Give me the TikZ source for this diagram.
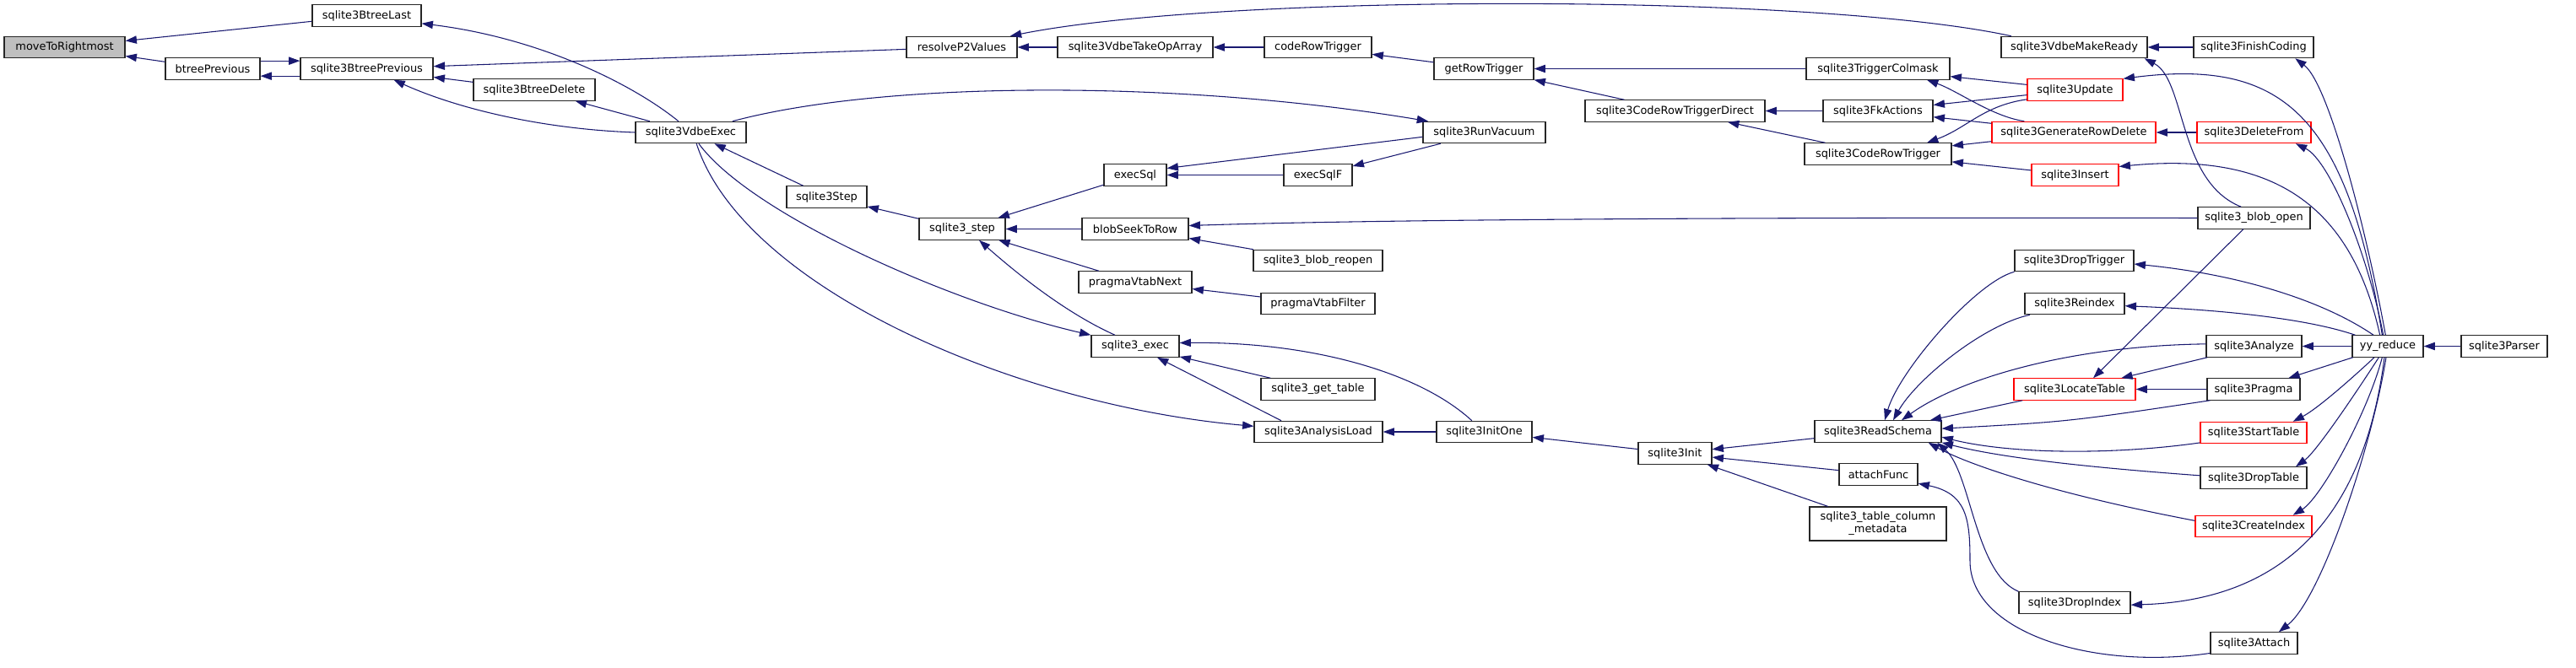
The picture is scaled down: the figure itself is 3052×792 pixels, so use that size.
\documentclass[tikz,border=0pt]{standalone}
\usepackage{fontspec}
\setmainfont{DejaVu Sans}
\usetikzlibrary{arrows.meta}
\definecolor{edgeblue}{HTML}{191970}
\definecolor{rootgray}{HTML}{BFBFBF}
\definecolor{linkred}{HTML}{FF0000}

\begin{document}
\begin{tikzpicture}[x=0.75pt,y=-0.75pt,
  fn/.style={draw=black!85,line width=0.9pt,fill=white,inner sep=0pt,
    minimum height=19pt,font=\fontsize{9.7}{11.3}\selectfont},
  redfn/.style={fn,draw=linkred},
  rootfn/.style={fn,fill=rootgray},
  call/.style={draw=edgeblue,line width=0.8pt,{Triangle[length=10pt,width=7pt]}-}]
  \useasboundingbox (0,0) rectangle (3052,792);

  % Functions
  \node[rootfn,minimum width=143*0.75pt] (mvr) at (76.5,56) {moveToRightmost};
  \foreach \id/\x/\y/\w/\txt in {
    btl/434.5/18.5/129/sqlite3BtreeLast, btp/252/81.5/112/btreePrevious,
    sbp/434.5/81.5/157/sqlite3BtreePrevious, bdel/633/106.5/144/sqlite3BtreeDelete,
    vexec/818.5/157/131/sqlite3VdbeExec, sstep/979.5/233.5/95/sqlite3Step,
    rp2/1139.5/56/131/resolveP2Values, takeop/1345/56/184/sqlite3VdbeTakeOpArray,
    crt/1561.5/56/127/codeRowTrigger, esql/1345/207.5/74/execSql,
    s3step/1140/271.5/102/sqlite3\_step, bseek/1345/271.5/126/blobSeekToRow,
    breopen/1561.5/309/153/sqlite3\_blob\_reopen, pvnext/1345/334.5/134/pragmaVtabNext,
    pvfilter/1561.5/360/135/pragmaVtabFilter, exec/1345/410.5/104/sqlite3\_exec,
    gettab/1561.5/461.5/135/sqlite3\_get\_table, aload/1562/512/152/sqlite3AnalysisLoad,
    grt/1758/81.5/118/getRowTrigger, vacuum/1758.5/157/145/sqlite3RunVacuum,
    esqlf/1561.5/207.5/81/execSqlF, initone/1758.5/512/113/sqlite3InitOne,
    crtd/1984.5/131.5/213/sqlite3CodeRowTriggerDirect, init/1984.5/537.5/87/sqlite3Init,
    colmask/2225/81.5/170/sqlite3TriggerColmask, fkact/2225/131.5/130/sqlite3FkActions,
    codert/2225/182.5/174/sqlite3CodeRowTrigger, rschema/2225/511.5/150/sqlite3ReadSchema,
    attf/2225.5/562.5/93/attachFunc, mready/2457.5/56/173/sqlite3VdbeMakeReady,
    dtrig/2457.5/309/141/sqlite3DropTrigger, reindex/2458/360/118/sqlite3Reindex,
    dindex/2458/714.5/132/sqlite3DropIndex, finish/2670/56/142/sqlite3FinishCoding,
    bopen/2670.5/258.5/133/sqlite3\_blob\_open, analyze/2670.5/410.5/113/sqlite3Analyze,
    pragma/2670/461.5/110/sqlite3Pragma, dtable/2670/566.5/126/sqlite3DropTable,
    attach/2670.5/762.5/103/sqlite3Attach, yyr/2829/410.5/84/yy\_reduce,
    parser/2967/410.5/102/sqlite3Parser
  }{
    \node[fn,minimum width=\w*0.75pt] (\id) at (\x,\y) {\txt};
  }
  \foreach \id/\x/\y/\w/\txt in {
    update/2458.5/106.5/113/sqlite3Update, grd/2457/157/194/sqlite3GenerateRowDelete,
    insert/2458.5/207.5/103/sqlite3Insert, locate/2458/461.5/144/sqlite3LocateTable,
    dfrom/2670.5/157/135/sqlite3DeleteFrom, stable/2670/513/126/sqlite3StartTable,
    cindex/2670/624/138/sqlite3CreateIndex
  }{
    \node[redfn,minimum width=\w*0.75pt] (\id) at (\x,\y) {\txt};
  }
  \node[fn,minimum width=162*0.75pt,minimum height=30pt,align=center] (tcm) at (2225,621)
    {sqlite3\_table\_column\\\_metadata};

  % Straight calls (arrow at the callee)
  \foreach \a/\b in {mvr/btl, mvr/btp, sbp/rp2, sbp/bdel, bdel/vexec, vexec/sstep,
    sstep/s3step, s3step/esql, s3step/bseek, s3step/pvnext, esql/esqlf, esqlf/vacuum,
    bseek/breopen, pvnext/pvfilter, exec/gettab, aload/initone, initone/init,
    rp2/takeop, takeop/crt, crt/grt, grt/colmask, grt/crtd, crtd/fkact, crtd/codert,
    colmask/update, fkact/update, fkact/grd, codert/grd, codert/insert, mready/finish,
    grd/dfrom, analyze/yyr, locate/analyze, locate/pragma, pragma/yyr, yyr/parser,
    rschema/locate, init/rschema, init/attf, init/tcm}
    \draw[call] (\a) -- (\b);
  \draw[call] ([yshift=7pt]sbp.west) -- ([yshift=7pt]btp.east);
  \draw[call] ([yshift=-6.5pt]btp.east) -- ([yshift=-6.5pt]sbp.west);
  \draw[call] ([yshift=6pt]esql.east) -- ([yshift=-4pt]vacuum.west);
  \draw[call] (exec) -- ([xshift=-33pt]aload.north);
  \draw[call] ([xshift=16.5pt]locate.north) -- ([xshift=-9.5pt]bopen.south);

  % Curved calls
  \draw[call] ([yshift=-7pt]btl.east) .. controls (640,45) and (750,100) .. ([xshift=-11pt]vexec.north);
  \draw[call] ([xshift=24pt]sbp.south) .. controls (540,128) and (640,153) .. (vexec.west);
  \draw[call] ([xshift=5pt]vacuum.north west) .. controls (1400,95) and (1050,95) .. ([xshift=37pt]vexec.north);
  \draw[call] (exec.north west) .. controls (1130,360) and (890,255) .. ([xshift=7pt]vexec.south);
  \draw[call] ([yshift=5pt]aload.west) .. controls (1200,480) and (880,340) .. ([xshift=5pt]vexec.south);
  \draw[call] ([xshift=15pt]s3step.south) .. controls (1200,320) and (1260,370) .. ([xshift=-18pt]exec.north);
  \draw[call] ([yshift=3pt]bseek.east) .. controls (1700,258) and (2300,258) .. (bopen.west);
  \draw[call] ([yshift=3pt]exec.east) .. controls (1550,405) and (1680,440) .. ([xshift=-11pt]initone.north);
  \draw[call] ([xshift=43pt]rp2.north) .. controls (1450,-8) and (2150,-8) .. ([xshift=-56pt]mready.north);
  \draw[call] ([xshift=43.5pt]colmask.south) .. controls (2320,108) and (2360,138) .. ([xshift=-44pt]grd.north);
  \draw[call] ([xshift=43.5pt]codert.north) .. controls (2330,152) and (2350,125) .. ([yshift=-8.5pt]update.west);
  \draw[call] ([xshift=-3pt]mready.south east) .. controls (2590,95) and (2580,215) .. ([xshift=-11.5pt]bopen.north);
  \draw[call] ([xshift=37pt]finish.south) .. controls (2760,100) and (2805,280) .. ([xshift=-2pt]yyr.north);
  \draw[call] (update.north east) .. controls (2700,70) and (2780,130) .. ([xshift=-5pt]yyr.north);
  \draw[call] ([xshift=37pt]dfrom.south) .. controls (2760,190) and (2805,300) .. ([xshift=-4pt]yyr.north);
  \draw[call] ([yshift=7.5pt]insert.east) .. controls (2690,180) and (2785,240) .. ([xshift=-7pt]yyr.north);
  \draw[call] ([yshift=-3pt]dtrig.east) .. controls (2650,325) and (2750,355) .. ([xshift=-12.75pt]yyr.north);
  \draw[call] ([yshift=-2pt]reindex.east) .. controls (2650,368) and (2740,380) .. ([xshift=-29pt]yyr.north);
  \draw[call] ([xshift=35pt]stable.north) .. controls (2745,485) and (2785,450) .. ([xshift=-12pt]yyr.south);
  \draw[call] ([xshift=37.5pt]dtable.north) .. controls (2745,535) and (2795,460) .. ([xshift=-8pt]yyr.south);
  \draw[call] ([xshift=35pt]cindex.north) .. controls (2750,590) and (2805,490) .. ([xshift=-5pt]yyr.south);
  \draw[call] ([yshift=-2pt]dindex.east) .. controls (2700,712) and (2800,620) .. ([xshift=-3pt]yyr.south);
  \draw[call] ([xshift=22pt]attach.north) .. controls (2750,710) and (2810,530) .. ([xshift=-1.5pt]yyr.south);
  \draw[call] ([xshift=6pt]rschema.north) .. controls (2250,440) and (2340,335) .. (dtrig.south west);
  \draw[call] ([xshift=13.5pt]rschema.north) .. controls (2270,450) and (2350,385) .. ([xshift=5pt]reindex.south west);
  \draw[call] ([xshift=21pt]rschema.north) .. controls (2320,450) and (2450,410) .. ([yshift=2pt]analyze.west);
  \draw[call] ([yshift=2.5pt]rschema.east) .. controls (2450,500) .. ([xshift=3pt]pragma.south west);
  \draw[call] ([yshift=-5pt]rschema.east) .. controls (2380,538) and (2500,540) .. ([yshift=1pt]stable.south west);
  \draw[call] (rschema.south east) .. controls (2380,545) and (2500,556) .. ([yshift=2pt]dtable.west);
  \draw[call] ([xshift=-12pt]rschema.south east) .. controls (2330,550) and (2430,585) .. ([yshift=5pt]cindex.west);
  \draw[call] ([xshift=-4pt]rschema.south east) .. controls (2335,560) and (2340,680) .. (dindex.north west);
  \draw[call] ([yshift=-8pt]attf.east) .. controls (2330,585) and (2334,615) .. (2334,665)
    .. controls (2334,750) and (2480,795) .. ([yshift=1pt]attach.south west);
\end{tikzpicture}
\end{document}
